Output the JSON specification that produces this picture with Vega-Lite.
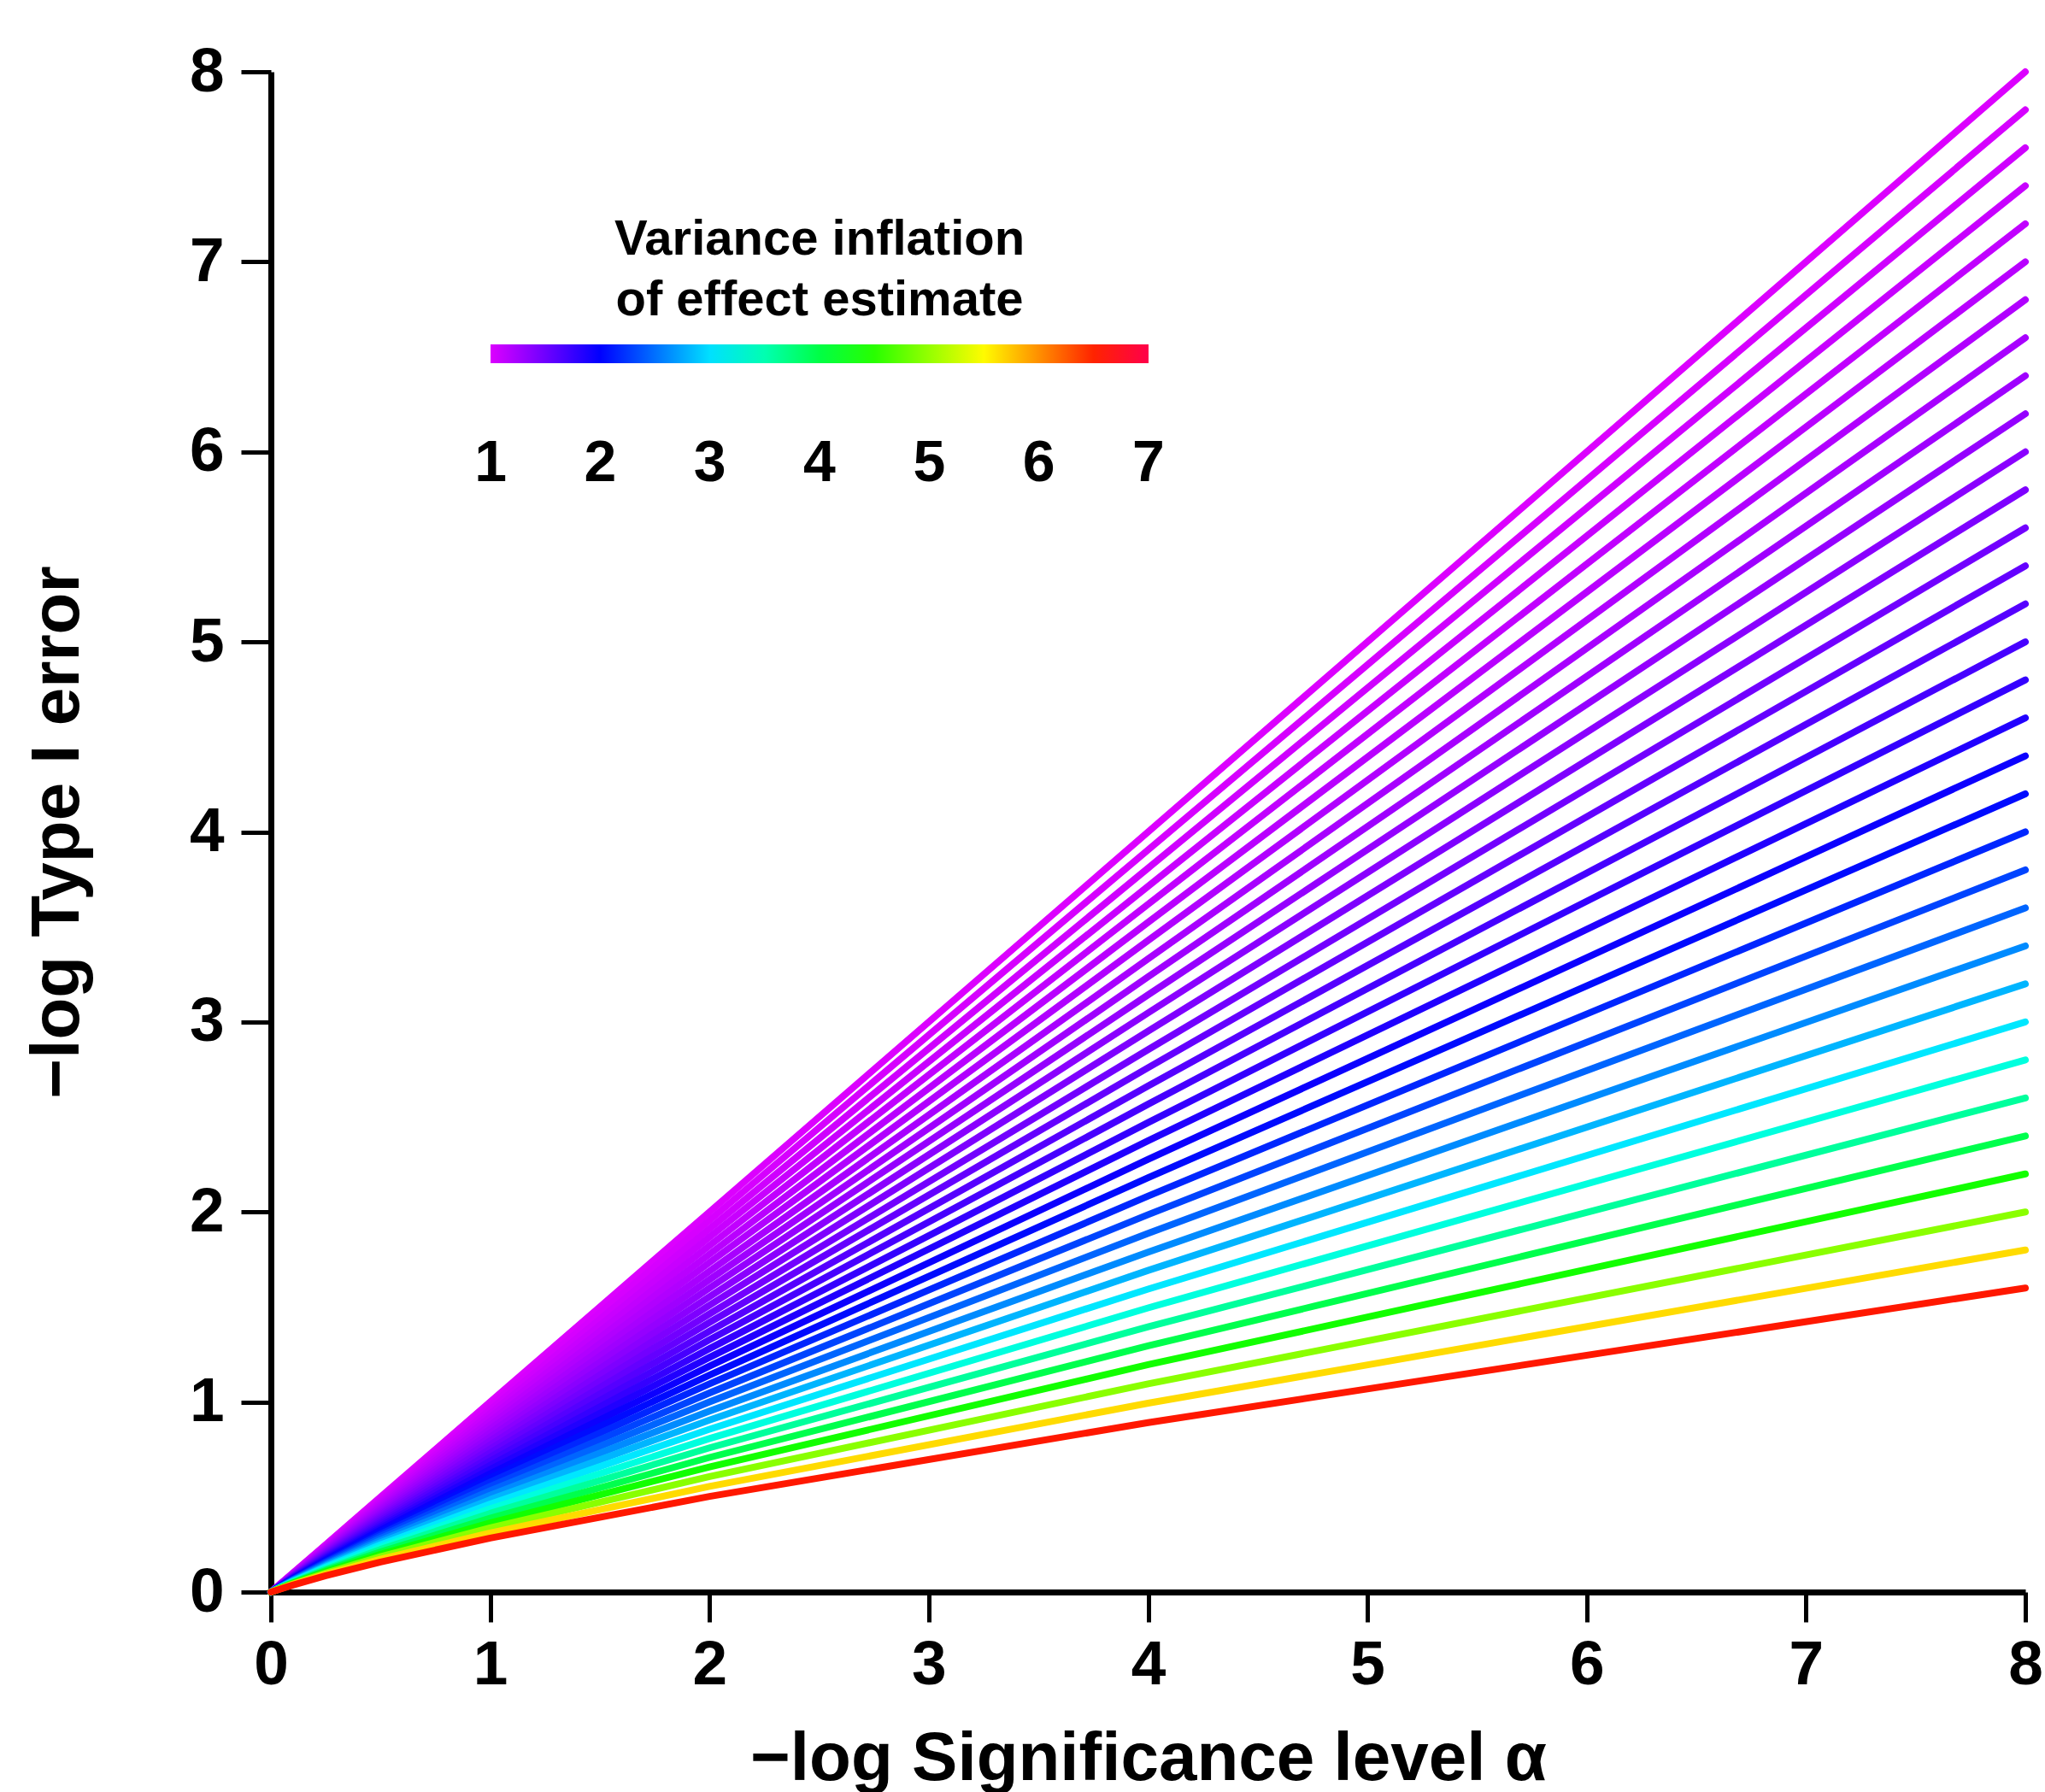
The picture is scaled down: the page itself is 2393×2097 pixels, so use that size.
{
"$schema": "https://vega.github.io/schema/vega-lite/v6.json",
"width": 2053,
"height": 1779,
"autosize": "none",
"padding": {"left": 317, "top": 84, "right": 23, "bottom": 234},
"background": "white",
"config": {"font": "Liberation Sans", "view": {"stroke": null}},
"datasets": {
"lines": [
{"l":0,"v":1.000},{"l":1,"v":1.028},{"l":2,"v":1.058},{"l":3,"v":1.089},{"l":4,"v":1.122},{"l":5,"v":1.158},{"l":6,"v":1.195},{"l":7,"v":1.235},{"l":8,"v":1.278},{"l":9,"v":1.324},{"l":10,"v":1.372},{"l":11,"v":1.425},{"l":12,"v":1.483},{"l":13,"v":1.544},{"l":14,"v":1.611},{"l":15,"v":1.683},{"l":16,"v":1.763},{"l":17,"v":1.850},{"l":18,"v":1.946},{"l":19,"v":2.051},{"l":20,"v":2.170},{"l":21,"v":2.302},{"l":22,"v":2.451},{"l":23,"v":2.621},{"l":24,"v":2.811},{"l":25,"v":3.033},{"l":26,"v":3.293},{"l":27,"v":3.598},{"l":28,"v":3.965},{"l":29,"v":4.402},{"l":30,"v":4.949},{"l":31,"v":5.645},{"l":32,"v":6.551}
],
"curves": [
{"l":0,"x":0,"y":0},{"l":0,"x":0.1,"y":0.1},{"l":0,"x":0.25,"y":0.25},{"l":0,"x":0.5,"y":0.5},{"l":0,"x":1,"y":1},{"l":0,"x":2,"y":2},{"l":0,"x":4,"y":4},{"l":0,"x":8,"y":8},
{"l":1,"x":0,"y":0},{"l":1,"x":0.1,"y":0.0991},{"l":1,"x":0.25,"y":0.2460},{"l":1,"x":0.5,"y":0.4911},{"l":1,"x":1,"y":0.9803},{"l":1,"x":2,"y":1.9564},{"l":1,"x":4,"y":3.9058},{"l":1,"x":8,"y":7.8},
{"l":2,"x":0,"y":0},{"l":2,"x":0.1,"y":0.0976},{"l":2,"x":0.25,"y":0.2419},{"l":2,"x":0.5,"y":0.4820},{"l":2,"x":1,"y":0.9596},{"l":2,"x":2,"y":1.9114},{"l":2,"x":4,"y":3.8098},{"l":2,"x":8,"y":7.6},
{"l":3,"x":0,"y":0},{"l":3,"x":0.1,"y":0.0960},{"l":3,"x":0.25,"y":0.2377},{"l":3,"x":0.5,"y":0.4729},{"l":3,"x":1,"y":0.9396},{"l":3,"x":2,"y":1.8674},{"l":3,"x":4,"y":3.7143},{"l":3,"x":8,"y":7.4},
{"l":4,"x":0,"y":0},{"l":4,"x":0.1,"y":0.0945},{"l":4,"x":0.25,"y":0.2335},{"l":4,"x":0.5,"y":0.4637},{"l":4,"x":1,"y":0.9196},{"l":4,"x":2,"y":1.8233},{"l":4,"x":4,"y":3.6197},{"l":4,"x":8,"y":7.2},
{"l":5,"x":0,"y":0},{"l":5,"x":0.1,"y":0.0929},{"l":5,"x":0.25,"y":0.2291},{"l":5,"x":0.5,"y":0.4543},{"l":5,"x":1,"y":0.8989},{"l":5,"x":2,"y":1.7782},{"l":5,"x":4,"y":3.5243},{"l":5,"x":8,"y":7.0},
{"l":6,"x":0,"y":0},{"l":6,"x":0.1,"y":0.0913},{"l":6,"x":0.25,"y":0.2248},{"l":6,"x":0.5,"y":0.4448},{"l":6,"x":1,"y":0.8781},{"l":6,"x":2,"y":1.7341},{"l":6,"x":4,"y":3.4290},{"l":6,"x":8,"y":6.8},
{"l":7,"x":0,"y":0},{"l":7,"x":0.1,"y":0.0896},{"l":7,"x":0.25,"y":0.2203},{"l":7,"x":0.5,"y":0.4351},{"l":7,"x":1,"y":0.8576},{"l":7,"x":2,"y":1.6891},{"l":7,"x":4,"y":3.3323},{"l":7,"x":8,"y":6.6},
{"l":8,"x":0,"y":0},{"l":8,"x":0.1,"y":0.0880},{"l":8,"x":0.25,"y":0.2158},{"l":8,"x":0.5,"y":0.4257},{"l":8,"x":1,"y":0.8370},{"l":8,"x":2,"y":1.6443},{"l":8,"x":4,"y":3.2375},{"l":8,"x":8,"y":6.4},
{"l":9,"x":0,"y":0},{"l":9,"x":0.1,"y":0.0863},{"l":9,"x":0.25,"y":0.2113},{"l":9,"x":0.5,"y":0.4163},{"l":9,"x":1,"y":0.8163},{"l":9,"x":2,"y":1.5999},{"l":9,"x":4,"y":3.1427},{"l":9,"x":8,"y":6.2},
{"l":10,"x":0,"y":0},{"l":10,"x":0.1,"y":0.0846},{"l":10,"x":0.25,"y":0.2068},{"l":10,"x":0.5,"y":0.4068},{"l":10,"x":1,"y":0.7952},{"l":10,"x":2,"y":1.5546},{"l":10,"x":4,"y":3.0478},{"l":10,"x":8,"y":6.0},
{"l":11,"x":0,"y":0},{"l":11,"x":0.1,"y":0.0829},{"l":11,"x":0.25,"y":0.2024},{"l":11,"x":0.5,"y":0.3970},{"l":11,"x":1,"y":0.7743},{"l":11,"x":2,"y":1.5097},{"l":11,"x":4,"y":2.9520},{"l":11,"x":8,"y":5.8},
{"l":12,"x":0,"y":0},{"l":12,"x":0.1,"y":0.0811},{"l":12,"x":0.25,"y":0.1979},{"l":12,"x":0.5,"y":0.3870},{"l":12,"x":1,"y":0.7531},{"l":12,"x":2,"y":1.4638},{"l":12,"x":4,"y":2.8546},{"l":12,"x":8,"y":5.6},
{"l":13,"x":0,"y":0},{"l":13,"x":0.1,"y":0.0793},{"l":13,"x":0.25,"y":0.1933},{"l":13,"x":0.5,"y":0.3769},{"l":13,"x":1,"y":0.7318},{"l":13,"x":2,"y":1.4187},{"l":13,"x":4,"y":2.7596},{"l":13,"x":8,"y":5.4},
{"l":14,"x":0,"y":0},{"l":14,"x":0.1,"y":0.0774},{"l":14,"x":0.25,"y":0.1886},{"l":14,"x":0.5,"y":0.3669},{"l":14,"x":1,"y":0.7101},{"l":14,"x":2,"y":1.3730},{"l":14,"x":4,"y":2.6631},{"l":14,"x":8,"y":5.2},
{"l":15,"x":0,"y":0},{"l":15,"x":0.1,"y":0.0755},{"l":15,"x":0.25,"y":0.1839},{"l":15,"x":0.5,"y":0.3570},{"l":15,"x":1,"y":0.6890},{"l":15,"x":2,"y":1.3272},{"l":15,"x":4,"y":2.5671},{"l":15,"x":8,"y":5.0},
{"l":16,"x":0,"y":0},{"l":16,"x":0.1,"y":0.0737},{"l":16,"x":0.25,"y":0.1789},{"l":16,"x":0.5,"y":0.3468},{"l":16,"x":1,"y":0.6671},{"l":16,"x":2,"y":1.2811},{"l":16,"x":4,"y":2.4703},{"l":16,"x":8,"y":4.8},
{"l":17,"x":0,"y":0},{"l":17,"x":0.1,"y":0.0719},{"l":17,"x":0.25,"y":0.1740},{"l":17,"x":0.5,"y":0.3365},{"l":17,"x":1,"y":0.6451},{"l":17,"x":2,"y":1.2350},{"l":17,"x":4,"y":2.3746},{"l":17,"x":8,"y":4.6},
{"l":18,"x":0,"y":0},{"l":18,"x":0.1,"y":0.0700},{"l":18,"x":0.25,"y":0.1689},{"l":18,"x":0.5,"y":0.3258},{"l":18,"x":1,"y":0.6231},{"l":18,"x":2,"y":1.1886},{"l":18,"x":4,"y":2.2767},{"l":18,"x":8,"y":4.4},
{"l":19,"x":0,"y":0},{"l":19,"x":0.1,"y":0.0681},{"l":19,"x":0.25,"y":0.1638},{"l":19,"x":0.5,"y":0.3150},{"l":19,"x":1,"y":0.6012},{"l":19,"x":2,"y":1.1420},{"l":19,"x":4,"y":2.1804},{"l":19,"x":8,"y":4.2},
{"l":20,"x":0,"y":0},{"l":20,"x":0.1,"y":0.0661},{"l":20,"x":0.25,"y":0.1586},{"l":20,"x":0.5,"y":0.3045},{"l":20,"x":1,"y":0.5784},{"l":20,"x":2,"y":1.0955},{"l":20,"x":4,"y":2.0835},{"l":20,"x":8,"y":4.0},
{"l":21,"x":0,"y":0},{"l":21,"x":0.1,"y":0.0642},{"l":21,"x":0.25,"y":0.1534},{"l":21,"x":0.5,"y":0.2938},{"l":21,"x":1,"y":0.5558},{"l":21,"x":2,"y":1.0478},{"l":21,"x":4,"y":1.9861},{"l":21,"x":8,"y":3.8},
{"l":22,"x":0,"y":0},{"l":22,"x":0.1,"y":0.0621},{"l":22,"x":0.25,"y":0.1481},{"l":22,"x":0.5,"y":0.2826},{"l":22,"x":1,"y":0.5329},{"l":22,"x":2,"y":1.0007},{"l":22,"x":4,"y":1.8877},{"l":22,"x":8,"y":3.6},
{"l":23,"x":0,"y":0},{"l":23,"x":0.1,"y":0.0599},{"l":23,"x":0.25,"y":0.1427},{"l":23,"x":0.5,"y":0.2712},{"l":23,"x":1,"y":0.5094},{"l":23,"x":2,"y":0.9525},{"l":23,"x":4,"y":1.7891},{"l":23,"x":8,"y":3.4},
{"l":24,"x":0,"y":0},{"l":24,"x":0.1,"y":0.0578},{"l":24,"x":0.25,"y":0.1371},{"l":24,"x":0.5,"y":0.2596},{"l":24,"x":1,"y":0.4862},{"l":24,"x":2,"y":0.9053},{"l":24,"x":4,"y":1.6925},{"l":24,"x":8,"y":3.2},
{"l":25,"x":0,"y":0},{"l":25,"x":0.1,"y":0.0555},{"l":25,"x":0.25,"y":0.1314},{"l":25,"x":0.5,"y":0.2483},{"l":25,"x":1,"y":0.4627},{"l":25,"x":2,"y":0.8568},{"l":25,"x":4,"y":1.5944},{"l":25,"x":8,"y":3.0},
{"l":26,"x":0,"y":0},{"l":26,"x":0.1,"y":0.0531},{"l":26,"x":0.25,"y":0.1254},{"l":26,"x":0.5,"y":0.2364},{"l":26,"x":1,"y":0.4382},{"l":26,"x":2,"y":0.8078},{"l":26,"x":4,"y":1.4951},{"l":26,"x":8,"y":2.8},
{"l":27,"x":0,"y":0},{"l":27,"x":0.1,"y":0.0507},{"l":27,"x":0.25,"y":0.1191},{"l":27,"x":0.5,"y":0.2241},{"l":27,"x":1,"y":0.4140},{"l":27,"x":2,"y":0.7587},{"l":27,"x":4,"y":1.3957},{"l":27,"x":8,"y":2.6},
{"l":28,"x":0,"y":0},{"l":28,"x":0.1,"y":0.0482},{"l":28,"x":0.25,"y":0.1130},{"l":28,"x":0.5,"y":0.2113},{"l":28,"x":1,"y":0.3888},{"l":28,"x":2,"y":0.7083},{"l":28,"x":4,"y":1.2953},{"l":28,"x":8,"y":2.4},
{"l":29,"x":0,"y":0},{"l":29,"x":0.1,"y":0.0456},{"l":29,"x":0.25,"y":0.1068},{"l":29,"x":0.5,"y":0.1989},{"l":29,"x":1,"y":0.3637},{"l":29,"x":2,"y":0.6587},{"l":29,"x":4,"y":1.1963},{"l":29,"x":8,"y":2.2},
{"l":30,"x":0,"y":0},{"l":30,"x":0.1,"y":0.0428},{"l":30,"x":0.25,"y":0.1002},{"l":30,"x":0.5,"y":0.1859},{"l":30,"x":1,"y":0.3379},{"l":30,"x":2,"y":0.6078},{"l":30,"x":4,"y":1.0956},{"l":30,"x":8,"y":2.0},
{"l":31,"x":0,"y":0},{"l":31,"x":0.1,"y":0.0399},{"l":31,"x":0.25,"y":0.0933},{"l":31,"x":0.5,"y":0.1721},{"l":31,"x":1,"y":0.3110},{"l":31,"x":2,"y":0.5558},{"l":31,"x":4,"y":0.9939},{"l":31,"x":8,"y":1.8},
{"l":32,"x":0,"y":0},{"l":32,"x":0.1,"y":0.0368},{"l":32,"x":0.25,"y":0.0860},{"l":32,"x":0.5,"y":0.1579},{"l":32,"x":1,"y":0.2840},{"l":32,"x":2,"y":0.5029},{"l":32,"x":4,"y":0.8914},{"l":32,"x":8,"y":1.6}
]
},
"data": {"name": "curves"},
"transform": [{"lookup": "l", "from": {"data": {"name": "lines"}, "key": "l", "fields": ["v"]}}],
"mark": {"type": "line", "strokeWidth": 8, "strokeCap": "round", "strokeJoin": "round", "clip": false},
"encoding": {
"x": {"field": "x", "type": "quantitative",
 "scale": {"domain": [0, 8], "nice": false, "zero": false},
 "axis": {"title": "−log Significance level α", "values": [0,1,2,3,4,5,6,7,8], "format": "d", "grid": false,
  "domainColor": "black", "domainWidth": 7, "tickColor": "black", "tickWidth": 5, "tickSize": 35,
  "labelFont": "Liberation Sans", "labelFontSize": 73, "labelFontWeight": "bold", "labelColor": "black", "labelPadding": 14, "labelFlush": false, "labelOverlap": false,
  "titleFont": "Liberation Sans", "titleFontSize": 80, "titleFontWeight": "bold", "titleColor": "black",
  "titleX": 1026.5, "titleY": 219, "titleAlign": "center", "titleBaseline": "alphabetic"}},
"y": {"field": "y", "type": "quantitative",
 "scale": {"domain": [0, 8], "nice": false, "zero": false},
 "axis": {"title": "−log Type I error", "values": [0,1,2,3,4,5,6,7,8], "format": "d", "grid": false,
  "domainColor": "black", "domainWidth": 7, "tickColor": "black", "tickWidth": 5, "tickSize": 35,
  "labelFont": "Liberation Sans", "labelFontSize": 73, "labelFontWeight": "bold", "labelColor": "black", "labelPadding": 20, "labelFlush": false, "labelOverlap": false,
  "titleFont": "Liberation Sans", "titleFontSize": 80, "titleFontWeight": "bold", "titleColor": "black",
  "titleX": -226, "titleY": 889.5, "titleAngle": 270, "titleAlign": "center", "titleBaseline": "alphabetic"}},
"color": {"field": "v", "type": "quantitative",
 "scale": {"type": "linear", "domain": [0.999, 2, 3.14, 4.32, 5.48, 6.66, 7.001], "range": ["#dc00ff", "#0000ff", "#00ffff", "#00ff00", "#ffff00", "#ff0000", "#ff004a"], "interpolate": "rgb"},
 "legend": {"orient": "none", "legendX": 257, "legendY": 168, "direction": "horizontal", "padding": 0,
  "gradientLength": 770, "gradientThickness": 22, "gradientStrokeWidth": 0,
  "title": ["Variance inflation", "of effect estimate"], "titleFont": "Liberation Sans", "titleFontSize": 58, "titleFontWeight": "bold", "titleColor": "black",
  "titleLineHeight": 71, "titleAnchor": "middle", "titleAlign": "center", "titlePadding": 22, "titleLimit": 2000,
  "values": [1,2,3,4,5,6,7], "format": "d",
  "labelFont": "Liberation Sans", "labelFontSize": 68, "labelFontWeight": "bold", "labelColor": "black", "labelAlign": "center", "labelOffset": 84, "labelOverlap": false, "labelFlush": false}},
"detail": {"field": "l", "type": "nominal"},
"order": {"field": "x", "type": "quantitative"}
}
}
